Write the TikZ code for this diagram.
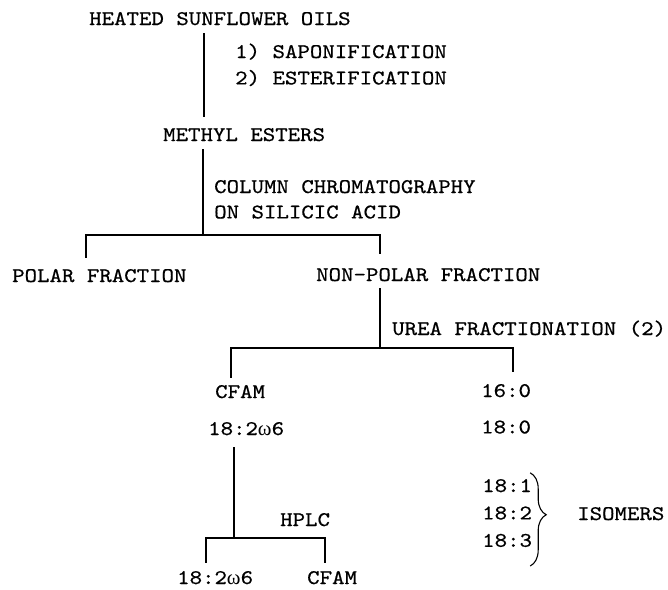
\documentclass[tikz,border=0pt]{standalone}
\usepackage{fontspec}
\setmainfont{lmmono10-regular}[Extension=.otf, FakeStretch=1.14, FakeBold=0.6]
\newfontfamily\grk{Liberation Serif}
\usepackage{tikz}
\usetikzlibrary{positioning, calc, decorations.pathreplacing}
\tikzset{%
	txt/.style={anchor=west, inner sep=0pt, text height=12pt, text depth=0pt,%
		font=\fontsize{20.8}{24}\selectfont},
	link/.style={line width=1.3pt},
	isobrace/.style={line width=1.1pt, decorate,%
		decoration={brace, amplitude=16pt, aspect=0.45}}
}
\newcommand{\omg}{{\grk ω}}

\begin{document}
\begin{tikzpicture}[x=1pt, y=-1pt]
	\useasboundingbox (0,0) rectangle (668,589);

	\node[txt] (heated) at (89,19) {HEATED SUNFLOWER OILS};
	\node[txt] (sap) at (235,52) {1) SAPONIFICATION};
	\node[txt] (ester) [below=14pt of sap.south west, anchor=north west] {2) ESTERIFICATION};
	\node[txt] (methyl) at (163,135) {METHYL ESTERS};
	\node[txt] (column) at (214,187) {COLUMN CHROMATOGRAPHY};
	\node[txt] (silicic) [below=13pt of column.south west, anchor=north west] {ON SILICIC ACID};
	\node[txt] (polar) at (12,276) {POLAR FRACTION};
	\node[txt] (nonpolar) at (316,275) {NON-POLAR FRACTION};
	\node[txt] (urea) at (392,329) {UREA FRACTIONATION (2)};
	\node[txt] (cfam) at (215,392) {CFAM};
	\node[txt] (w6) at (208,429) {18:2\omg6};
	\node[txt] (c160) at (481,391) {16:0};
	\node[txt] (c180) [below=24pt of c160.south west, anchor=north west] {18:0};
	\node[txt] (c181) at (482,486) {18:1};
	\node[txt] (c182) [below=15pt of c181.south west, anchor=north west] {18:2};
	\node[txt] (c183) [below=15pt of c182.south west, anchor=north west] {18:3};
	\node[txt] (isomers) at (577,514) {ISOMERS};
	\node[txt] (hplc) at (280,520) {HPLC};
	\node[txt] (w6b) at (177,578) {18:2\omg6};
	\node[txt] (cfamb) at (307,578) {CFAM};

	% branch points
	\coordinate (j1) at (203,235);
	\coordinate (j2) at (380,348);
	\coordinate (j3) at (234,538);

	\draw [link] ($(heated.south west)+(115,8)$) to ($(methyl.north west)+(41,-12)$);

	\draw [link] ($(methyl.south west)+(40,8)$) to (j1);
	\draw [link] ($(polar.north west)+(74,-12)$) |- (j1) -| ($(nonpolar.north west)+(64,-15)$);

	\draw [link] ($(nonpolar.south west)+(64,7)$) to (j2);
	\draw [link] ($(cfam.north west)+(16,-8)$) |- (j2) -| ($(c160.north west)+(32,-13)$);

	\draw [link] ($(w6.south west)+(26,12)$) to (j3);
	\draw [link] ($(w6b.north west)+(29,-9)$) |- (j3) -| ($(cfamb.north west)+(18,-9)$);

	\draw [isobrace] ($(c181.north east)+(-2,-7)$) to ($(c183.south east)+(-2,19)$);
\end{tikzpicture}
\end{document}
